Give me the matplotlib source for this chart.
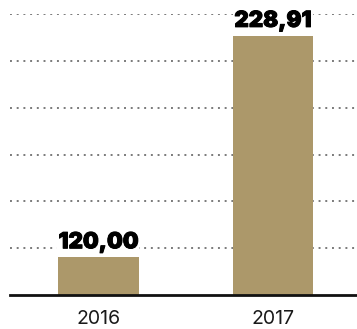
import numpy as np
import matplotlib
matplotlib.use("Agg")
import matplotlib.pyplot as plt
import matplotlib.patheffects as pe

# Data
years = ["2016", "2017"]
values = [120.00, 228.91]
value_labels = ["120,00", "228,91"]

BAR_COLOR = "#ac986a"
GRID_COLOR = "#7a7a7a"

fig = plt.figure(figsize=(3.57, 3.29), dpi=100)
ax = fig.add_axes([10 / 357, 34 / 329, 347 / 357, 281 / 329])

x = np.arange(len(years))
ax.bar(x, values, width=0.46, color=BAR_COLOR, zorder=2)

# Value axis starts above zero; dotted guide lines at equal steps
y_min, y_max = 101.45, 239.7
ax.set_ylim(y_min, y_max)
ax.set_xlim(-0.507, 1.482)
ax.set_yticks(np.linspace(y_min, y_max, 7)[1:])
ax.yaxis.grid(True, linestyle=(0, (1, 2.45)), linewidth=1.4, color=GRID_COLOR, zorder=0)
ax.set_axisbelow(True)
ax.tick_params(axis="y", left=False, labelleft=False)

ax.set_xticks(x)
ax.set_xticklabels(years, fontsize=14, family="Inter", fontweight="normal")
ax.tick_params(axis="x", length=0, pad=11, colors="#1a1a1a")

for side in ("left", "right", "top"):
    ax.spines[side].set_visible(False)
ax.spines["bottom"].set_linewidth(2)
ax.spines["bottom"].set_color("#111111")
ax.spines["bottom"].set_zorder(3)

heavy = [pe.withStroke(linewidth=0.7, foreground="black")]
for xi, v, lab in zip(x, values, value_labels):
    ax.annotate(lab, (xi, v), xytext=(0, 6.5), textcoords="offset points",
                ha="center", va="baseline", fontsize=16, family="Inter",
                fontweight="black", color="black", zorder=4, annotation_clip=False,
                path_effects=heavy,
                bbox=dict(boxstyle="square,pad=0.05", facecolor="white", edgecolor="none"))

fig.savefig("out.png", dpi=100, facecolor="white")
